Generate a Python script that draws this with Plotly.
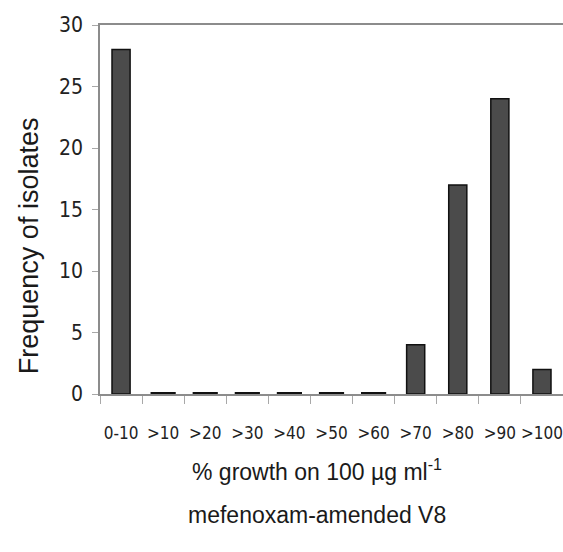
import plotly.graph_objects as go

categories = ["0-10", ">10", ">20", ">30", ">40", ">50", ">60", ">70", ">80", ">90", ">100"]
counts = [28, 0, 0, 0, 0, 0, 0, 4, 17, 24, 2]
y_ticks = [0, 5, 10, 15, 20, 25, 30]

zero_cats = [c for c, v in zip(categories, counts) if v == 0]
zero_vals = [v for v in counts if v == 0]

narrow = "DejaVu Sans Condensed, Liberation Sans Narrow, Liberation Sans, sans-serif"
sans = "Liberation Sans, Arial, sans-serif"

fig = go.Figure()
fig.add_trace(go.Bar(
    x=categories, y=counts, width=0.43,
    marker=dict(color="#4b4b4b", line=dict(color="#111111", width=1.5)),
    showlegend=False,
))
fig.add_trace(go.Scatter(
    x=zero_cats, y=zero_vals, mode="markers",
    marker=dict(symbol="line-ew", size=18, line=dict(color="#111111", width=4)),
    showlegend=False, cliponaxis=False,
))

fig.update_layout(
    width=563, height=552,
    margin=dict(l=100, r=0, t=25, b=158),
    paper_bgcolor="white", plot_bgcolor="white",
    bargap=0.57,
    xaxis=dict(
        type="category", showline=True, linecolor="#8c8c8c", linewidth=2, mirror=True,
        ticks="outside", tickson="boundaries", ticklen=8, tickcolor="#a8a8a8", tickwidth=1,
        tickangle=0, automargin=False,
        tickfont=dict(family=narrow, size=17, color="#222222"),
        ticklabelstandoff=23, showgrid=False, zeroline=False,
    ),
    yaxis=dict(
        range=[0, 30], tickvals=y_ticks, showline=True, linecolor="#8c8c8c", linewidth=1.5,
        ticks="outside", ticklen=6, tickcolor="#a8a8a8", tickwidth=1, automargin=False,
        tickfont=dict(family=narrow, size=21, color="#222222"),
        ticklabelstandoff=5, showgrid=False, zeroline=False,
    ),
    annotations=[
        dict(text="Frequency of isolates", textangle=-90, xref="paper", yref="paper",
             x=-0.153, y=0.401, xanchor="center", yanchor="middle", showarrow=False,
             font=dict(family=sans, size=27, color="#1a1a1a")),
        dict(text="% growth on 100 µg ml<sup>-1</sup>", xref="paper", yref="paper",
             x=0.469, y=-0.206, xanchor="center", yanchor="middle", showarrow=False,
             font=dict(family=sans, size=23, color="#1a1a1a")),
        dict(text="mefenoxam-amended V8", xref="paper", yref="paper",
             x=0.469, y=-0.328, xanchor="center", yanchor="middle", showarrow=False,
             font=dict(family=sans, size=23, color="#1a1a1a")),
    ],
)

fig.write_html("out.html")
